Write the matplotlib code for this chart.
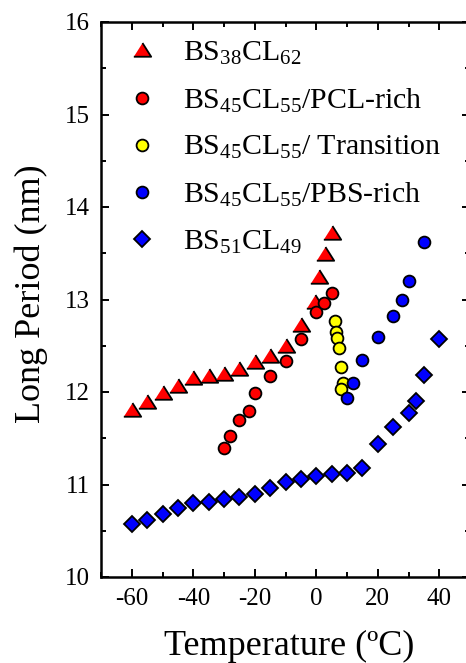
import matplotlib
matplotlib.use("Agg")
import matplotlib.pyplot as plt
from matplotlib.ticker import MultipleLocator

plt.rcParams['font.family'] = ['Liberation Serif', 'DejaVu Serif']
plt.rcParams['mathtext.fontset'] = 'custom'
plt.rcParams['mathtext.rm'] = 'Liberation Serif'
plt.rcParams['mathtext.it'] = 'Liberation Serif:italic'
plt.rcParams['mathtext.bf'] = 'Liberation Serif:bold'
plt.rcParams['axes.unicode_minus'] = False

# BS38CL62
tri_x = [-60, -55, -50, -45, -40, -35, -30, -25, -20, -15, -10, -5, -0.5, 1, 3, 5]
tri_y = [11.81, 11.89, 11.99, 12.07, 12.15, 12.17, 12.19, 12.25, 12.32, 12.39, 12.50, 12.72,
         12.97, 13.24, 13.49, 13.72]
# BS45CL55 / PCL-rich
pcl_x = [-30, -28, -25, -22, -20, -15, -10, -5, 0, 2.5, 5]
pcl_y = [11.39, 11.52, 11.70, 11.79, 11.99, 12.17, 12.33, 12.57, 12.86, 12.96, 13.07]
# BS45CL55 / Transition
trans_x = [6.0, 6.3, 6.8, 7.4, 7.9, 8.7, 8.1]
trans_y = [12.77, 12.65, 12.58, 12.48, 12.27, 12.10, 12.03]
# BS45CL55 / PBS-rich
pbs_x = [10, 12, 15, 20, 25, 28, 30, 35]
pbs_y = [11.94, 12.10, 12.35, 12.59, 12.82, 12.99, 13.20, 13.62]
# BS51CL49
dia_x = [-60, -55, -50, -45, -40, -35, -30, -25, -20, -15, -10, -5, 0, 5, 10, 15,
         20, 25, 30, 32.5, 35, 40]
dia_y = [10.57, 10.62, 10.68, 10.75, 10.80, 10.81, 10.84, 10.87, 10.90, 10.96, 11.03,
         11.06, 11.09, 11.11, 11.12, 11.18, 11.44, 11.62, 11.77, 11.90, 12.18, 12.57]

labels = [r'$\mathregular{BS_{38}CL_{62}}$',
          r'$\mathregular{BS_{45}CL_{55}/PCL\text{-}rich}$',
          r'$\mathregular{BS_{45}CL_{55}/\ Transition}$',
          r'$\mathregular{BS_{45}CL_{55}/PBS\text{-}rich}$',
          r'$\mathregular{BS_{51}CL_{49}}$']

tri_marker = [(-1.0, -0.72), (1.0, -0.72), (0.0, 0.86)]

fig = plt.figure(figsize=(4.66, 6.63), dpi=100)
ax = fig.add_axes([101 / 466, 86 / 663, 369 / 466, 555 / 663])

kw = dict(linestyle='none', markeredgecolor='black', markeredgewidth=1.3)
ax.plot(tri_x, tri_y, marker=tri_marker, markersize=12.5, color='#FF0000', label=labels[0], **kw)
ax.plot(pcl_x, pcl_y, marker='o', markersize=8.5, color='#FF0000', label=labels[1], **kw)
ax.plot(trans_x, trans_y, marker='o', markersize=8.5, color='#FFFF00', label=labels[2], **kw)
ax.plot(pbs_x, pbs_y, marker='o', markersize=8.5, color='#0000FF', label=labels[3], **kw)
ax.plot(dia_x, dia_y, marker='D', markersize=8.5, color='#0000FF', label=labels[4], **kw)

ax.set_xlim(-70, 50)
ax.set_ylim(10, 16)
ax.xaxis.set_major_locator(MultipleLocator(20))
ax.xaxis.set_minor_locator(MultipleLocator(10))
ax.yaxis.set_major_locator(MultipleLocator(1))
ax.yaxis.set_minor_locator(MultipleLocator(0.5))
ax.tick_params(which='both', direction='in', top=True, right=True, width=1.4)
ax.tick_params(which='major', length=6, labelsize=18, pad=8)
ax.tick_params(which='minor', length=3.5)
for s in ax.spines.values():
    s.set_linewidth(1.8)

ax.set_xlabel('Temperature (ºC)', fontsize=26)
ax.set_ylabel('Long Period (nm)', fontsize=26)
ax.xaxis.set_label_coords(0.51, -0.095)
ax.yaxis.set_label_coords(-0.1436, 0.51)

ax.legend(loc='upper left', frameon=False, fontsize=21.5, handlelength=0.8,
          handletextpad=1.0, labelspacing=0.65, borderaxespad=0.2,
          bbox_to_anchor=(0.029, 1.0))

fig.savefig('out.png', dpi=100)
